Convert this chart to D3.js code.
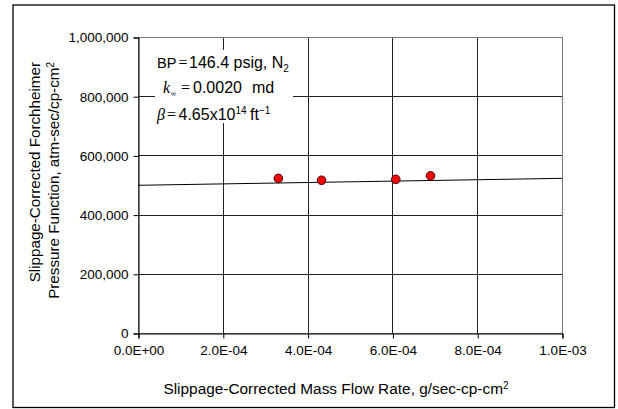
<!DOCTYPE html>
<html>
<head>
<meta charset="utf-8">
<script src="https://cdn.jsdelivr.net/npm/d3@7"></script>
<style>
  html, body { margin: 0; padding: 0; background: #fff; }
  svg { display: block; }
  text { font-family: "Liberation Sans", Arial, sans-serif; fill: #000; }
</style>
</head>
<body>
<svg id="chart" width="618" height="409"></svg>
<script>
// Measured points: slippage-corrected mass flow rate vs Forchheimer pressure function
const massFlow = [3.31e-4, 4.33e-4, 6.08e-4, 6.90e-4];
const pressureFn = [522500, 516000, 519000, 531000];

// Straight-line fit through the points (end points of the drawn line)
const fitX = [0, 1.0e-3];
const fitY = [499000, 522500];

const xTicks = [0, 2e-4, 4e-4, 6e-4, 8e-4, 1e-3];
const xTickLabels = ["0.0E+00", "2.0E-04", "4.0E-04", "6.0E-04", "8.0E-04", "1.0E-03"];
const yTicks = [0, 200000, 400000, 600000, 800000, 1000000];
const yTickLabels = ["0", "200,000", "400,000", "600,000", "800,000", "1,000,000"];

const svg = d3.select("#chart");
const W = 618, H = 409;
const m = { left: 138, right: 56, top: 37, bottom: 76 };
const pw = W - m.left - m.right, ph = H - m.top - m.bottom;

// outer frame
svg.append("rect").attr("x", 13).attr("y", 5).attr("width", 601.5).attr("height", 402.5)
  .attr("fill", "#fff").attr("stroke", "#000").attr("stroke-width", 1.3);

const x = d3.scaleLinear().domain([0, 1e-3]).range([0, pw]);
const y = d3.scaleLinear().domain([0, 1000000]).range([ph, 0]);

const g = svg.append("g").attr("transform", `translate(${m.left},${m.top})`);

// gridlines
g.append("g").selectAll("line.gx").data(xTicks.slice(1, -1)).join("line")
  .attr("x1", d => Math.round(x(d)) + 0.5).attr("x2", d => Math.round(x(d)) + 0.5)
  .attr("y1", 0).attr("y2", ph).attr("stroke", "#222").attr("stroke-width", 1);
g.append("g").selectAll("line.gy").data(yTicks.slice(1, -1)).join("line")
  .attr("y1", d => Math.round(y(d)) + 0.5).attr("y2", d => Math.round(y(d)) + 0.5)
  .attr("x1", 0).attr("x2", pw).attr("stroke", "#222").attr("stroke-width", 1);

// plot area border
g.append("rect").attr("x", 0.5).attr("y", 0.5).attr("width", pw).attr("height", ph)
  .attr("fill", "none").attr("stroke", "#777").attr("stroke-width", 1);

// axes
const xAxis = d3.axisBottom(x).tickValues(xTicks).tickSize(5).tickPadding(7)
  .tickFormat((d, i) => xTickLabels[i]);
const yAxis = d3.axisLeft(y).tickValues(yTicks).tickSize(5).tickPadding(5)
  .tickFormat((d, i) => yTickLabels[i]);

const gx = g.append("g").attr("transform", `translate(0.5,${ph + 0.5})`).call(xAxis);
const gy = g.append("g").attr("transform", `translate(0.5,0.5)`).call(yAxis);
[gx, gy].forEach(a => {
  a.select(".domain").attr("stroke", "#000");
  a.selectAll(".tick line").attr("stroke", "#000");
  a.selectAll(".tick text").attr("font-family", '"Liberation Sans", Arial, sans-serif')
    .attr("font-size", 13.5).attr("fill", "#000");
});

// annotation box (white panel that hides the gridlines behind the text)
g.append("rect").attr("x", 17).attr("y", 13).attr("width", 138).attr("height", 73).attr("fill", "#fff");
const serif = '"Liberation Serif", "Times New Roman", serif';
const ann = svg.append("g").attr("font-size", 16);

const t1 = ann.append("text").attr("y", 68);
t1.append("tspan").attr("x", 157).attr("font-size", 14.5).text("BP");
t1.append("tspan").attr("x", 178.5).attr("font-family", serif).text("=");
t1.append("tspan").attr("x", 189).text("146.4 psig, N");
t1.append("tspan").attr("font-size", 10).attr("dy", 4).text("2");

const t2 = ann.append("text").attr("y", 93);
t2.append("tspan").attr("x", 163).attr("font-family", serif).attr("font-style", "italic").text("k");
t2.append("tspan").attr("x", 171).attr("font-size", 7).attr("dy", 3).text("\u221e");
t2.append("tspan").attr("x", 181).attr("dy", -3).attr("font-family", serif).text("=");
t2.append("tspan").attr("x", 193).text("0.0020");
t2.append("tspan").attr("x", 252).text("md");

const t3 = ann.append("text").attr("y", 120);
t3.append("tspan").attr("x", 157).attr("font-family", serif).attr("font-style", "italic").text("\u03b2");
t3.append("tspan").attr("x", 167).attr("font-family", serif).text("=");
t3.append("tspan").attr("x", 178.5).text("4.65x10");
t3.append("tspan").attr("font-size", 10).attr("dy", -6).text("14");
t3.append("tspan").attr("x", 250).attr("dy", 6).text("ft");
t3.append("tspan").attr("font-size", 10).attr("dy", -6).text("\u22121");

// fitted line
const line = d3.line().x(d => x(d[0])).y(d => y(d[1]));
g.append("path").datum(fitX.map((v, i) => [v, fitY[i]]))
  .attr("d", line).attr("fill", "none").attr("stroke", "#000").attr("stroke-width", 1);

// data points
g.selectAll("circle.pt").data(massFlow.map((v, i) => [v, pressureFn[i]])).join("circle")
  .attr("cx", d => x(d[0])).attr("cy", d => y(d[1])).attr("r", 4.3)
  .attr("fill", "#ff0000").attr("stroke", "#400000").attr("stroke-width", 1);

// axis titles
svg.append("text").attr("x", 336).attr("y", 394).attr("text-anchor", "middle")
  .attr("font-size", 15.4)
  .call(t => { t.append("tspan").text("Slippage-Corrected Mass Flow Rate, g/sec-cp-cm");
               t.append("tspan").attr("font-size", 10).attr("dy", -5).text("2"); });

const yl = svg.append("g").attr("transform", `rotate(-90)`);
yl.append("text").attr("x", -62).attr("y", 40).attr("text-anchor", "end").attr("font-size", 15.2)
  .text("Slippage-Corrected Forchheimer");
yl.append("text").attr("x", -62).attr("y", 59).attr("text-anchor", "end").attr("font-size", 15.2)
  .call(t => { t.append("tspan").text("Pressure Function, atm-sec/cp-cm");
               t.append("tspan").attr("font-size", 10).attr("dy", -5).text("2"); });
</script>
</body>
</html>
